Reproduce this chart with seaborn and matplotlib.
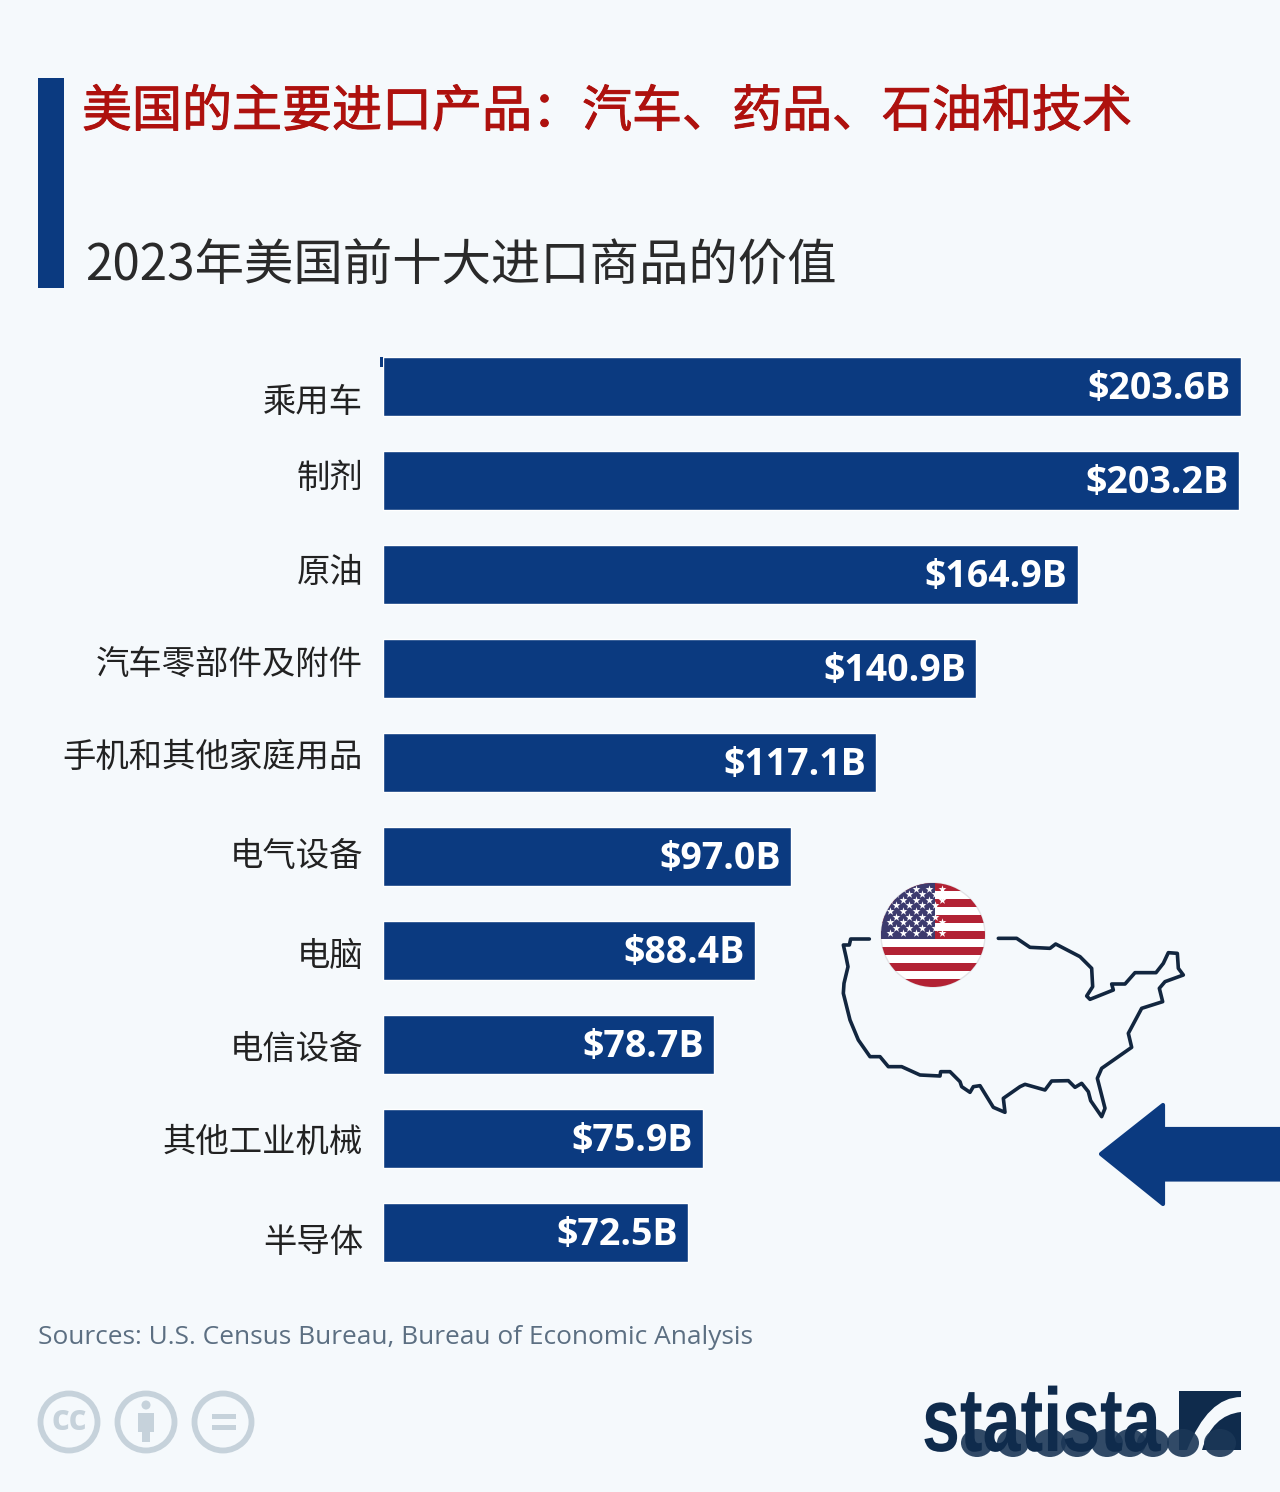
import numpy as np
import pandas as pd
import matplotlib
matplotlib.use("Agg")
import matplotlib.pyplot as plt
import matplotlib.patheffects as pe
import seaborn as sns
from matplotlib.patches import Rectangle, Circle, Polygon, Ellipse, PathPatch
from matplotlib.path import Path
from matplotlib.transforms import ScaledTranslation, Affine2D

categories = ["乘用车", "制剂", "原油", "汽车零部件及附件", "手机和其他家庭用品",
              "电气设备", "电脑", "电信设备", "其他工业机械", "半导体"]
values = [203.6, 203.2, 164.9, 140.9, 117.1, 97.0, 88.4, 78.7, 75.9, 72.5]
value_labels = ["$203.6B", "$203.2B", "$164.9B", "$140.9B", "$117.1B",
                "$97.0B", "$88.4B", "$78.7B", "$75.9B", "$72.5B"]
title = "美国的主要进口产品：汽车、药品、石油和技术"
subtitle = "2023年美国前十大进口商品的价值"
source = "Sources: U.S. Census Bureau, Bureau of Economic Analysis"
label_shift_px = [12, -6, -6, -8, -9, -4, 2, 1, 0, 6]

BG = "#f5f9fc"
BLUE = "#0b3a80"
NAVY = "#0f2b4c"
CJK = ["Noto Sans CJK SC", "DejaVu Sans"]

sns.set_theme(style="white")
plt.rcParams["font.family"] = CJK
W, H = 1280, 1492
fig = plt.figure(figsize=(W / 100, H / 100), dpi=100, facecolor=BG)


class Condense(pe.AbstractPathEffect):
    """Squeezes text horizontally about a pixel position."""
    def __init__(self, sx, x0):
        super().__init__()
        self.sx, self.x0 = sx, x0

    def draw_path(self, renderer, gc, tpath, affine, rgbFace=None):
        t = affine + Affine2D().translate(-self.x0, 0).scale(self.sx, 1).translate(self.x0, 0)
        renderer.draw_path(gc, tpath, t, rgbFace)


# decoration layer in pixel coordinates
bgax = fig.add_axes([0, 0, 1, 1])
bgax.set_xlim(0, W)
bgax.set_ylim(H, 0)
bgax.axis("off")

# bars
PX = 4.215
LEFT = 382.6
ax = fig.add_axes([LEFT / W, 1 - 1279.5 / H, (W - LEFT) / W, 940 / H])
ax.patch.set_alpha(0)
df = pd.DataFrame({"cat": categories, "val": values})
sns.barplot(data=df, x="val", y="cat", orient="h", color=BLUE, saturation=1,
            width=0.633, ax=ax)
ax.set_xlim(0, (W - LEFT) / PX)
ax.set_xlabel("")
ax.set_ylabel("")
ax.xaxis.set_visible(False)
sns.despine(ax=ax, left=True, bottom=True)
ax.tick_params(axis="y", length=0, pad=14)
ax.set_yticks(range(len(categories)))
ax.set_yticklabels(categories, fontsize=24, color="#222222")
for lab, s in zip(ax.get_yticklabels(), label_shift_px):
    lab.set_transform(lab.get_transform() + ScaledTranslation(0, -s / 100, fig.dpi_scale_trans))
for i, (v, t) in enumerate(zip(values, value_labels)):
    ax.annotate(t, xy=(v, i), xytext=(-7.2, -1.6), textcoords="offset points",
                ha="right", va="center", color="white", fontsize=27,
                fontweight="bold", family=["Open Sans", "DejaVu Sans"])

# header
bgax.add_patch(Rectangle((38, 78), 26, 210, color=BLUE, lw=0))
bgax.add_patch(Rectangle((380, 357), 4, 10, color=BLUE, lw=0))
bgax.text(82, 112.5, title, fontsize=36, color="#ae110e", va="center", ha="left",
          path_effects=[pe.withStroke(linewidth=0.7, foreground="#ae110e")])
bgax.text(85, 266, subtitle, fontsize=35.6, color="#2a2a2a", va="center", ha="left")
bgax.text(38, 1338, source, fontsize=18.95, color="#5c6f82", va="center", ha="left",
          family=["Open Sans", "DejaVu Sans"])

# arrow
bgax.add_patch(Polygon([(1101, 1154), (1163, 1105), (1163, 1129), (1280, 1129),
                        (1280, 1179.5), (1163, 1179.5), (1163, 1204)],
                       closed=True, fc=BLUE, ec=BLUE, lw=3, joinstyle="round"))

# map outline (zoom-crop coordinates converted to pixels)
outline = np.array([(148,237),(92,237),(88,255),(70,255),(78,290),(84,320),(72,370),(70,400),(90,480),
    (115,540),(150,590),(180,590),(205,620),(245,620),(300,645),(360,648),(362,635),(390,635),
    (420,665),(425,680),(450,697),(460,680),(480,677),(520,742),(555,757),(550,715),(600,680),
    (615,673),(675,690),(695,663),(745,662),(765,682),(785,670),(805,695),(812,722),(845,770),
    (855,745),(832,655),(845,625),(935,562),(925,520),(965,445),(1028,425),(1018,385),(1035,365),
    (1090,345),(1075,325),(1072,280),(1045,278),(1030,310),(1008,338),(945,338),(915,372),
    (875,372),(880,390),(810,418),(800,408),(818,380),(815,325),(780,290),(707,252),(690,265),
    (630,262),(590,235),(535,235)], dtype=float) / 3 + np.array([820, 860])
bgax.plot(outline[:, 0], outline[:, 1], color="#12263f", lw=2.6, solid_joinstyle="round")

# flag
cx, cy, r = 933, 935, 52
clip = Circle((cx, cy), r, transform=bgax.transData)
bgax.add_patch(Circle((cx, cy), r, fc="white", ec="#e3e3e6", lw=1))
for k in range(7):
    s = Rectangle((cx - r, cy - r + k * 16), 2 * r, 8, color="#b22234", lw=0)
    s.set_clip_path(clip)
    bgax.add_patch(s)
canton = Rectangle((cx - r, cy - r), r + 2, 56, color="#3c3b6e", lw=0)
canton.set_clip_path(clip)
bgax.add_patch(canton)
sx, sy = [], []
for row in range(9):
    n = 5 if row % 2 == 0 else 4
    x0 = 889.5 if row % 2 == 0 else 896
    for c in range(n):
        sx.append(x0 + c * 13)
        sy.append(cy - r + 5.5 + row * 5.6)
pts = bgax.scatter(sx, sy, marker="*", s=36, color="white", lw=0)
pts.set_clip_path(clip)

# licence icons
GREY = "#c6d2db"
for x in (69, 146, 223):
    bgax.add_patch(Circle((x, 1422), 28.5, fc="none", ec=GREY, lw=4.2))
bgax.text(69, 1421, "cc", fontsize=25, color=GREY, fontweight="bold", ha="center", va="center",
          family=["Open Sans", "DejaVu Sans"])
bgax.add_patch(Circle((146, 1405), 4.5, color=GREY, lw=0))
bgax.add_patch(Rectangle((138, 1413), 16, 19, color=GREY, lw=0))
bgax.add_patch(Rectangle((142, 1430), 8, 12, color=GREY, lw=0))
bgax.add_patch(Rectangle((212, 1414), 24, 5, color=GREY, lw=0))
bgax.add_patch(Rectangle((212, 1425), 24, 5, color=GREY, lw=0))

# statista logo
bgax.text(922, 1451, "statista", fontsize=65, color=NAVY, fontweight="bold", ha="left",
          va="baseline", family=["Liberation Sans", "DejaVu Sans"],
          path_effects=[Condense(0.755, 922)])
bgax.add_patch(Rectangle((1179, 1391), 62, 59, color=NAVY, lw=0))
bgax.add_patch(PathPatch(Path([(1241, 1397), (1208, 1397), (1187, 1450), (1202, 1450),
                               (1212, 1415), (1241, 1412)],
                              [Path.MOVETO, Path.CURVE3, Path.CURVE3, Path.LINETO,
                               Path.CURVE3, Path.CURVE3]),
                         fc=BG, ec="none"))
for x in (977, 1013, 1050, 1077, 1107, 1130, 1153, 1183, 1220):
    bgax.add_patch(Ellipse((x, 1443), 32, 28, fc="#1b3757", ec="none", alpha=0.9))
bgax.set_zorder(0)
ax.set_zorder(1)

fig.savefig("out.png", dpi=100, facecolor=BG)
